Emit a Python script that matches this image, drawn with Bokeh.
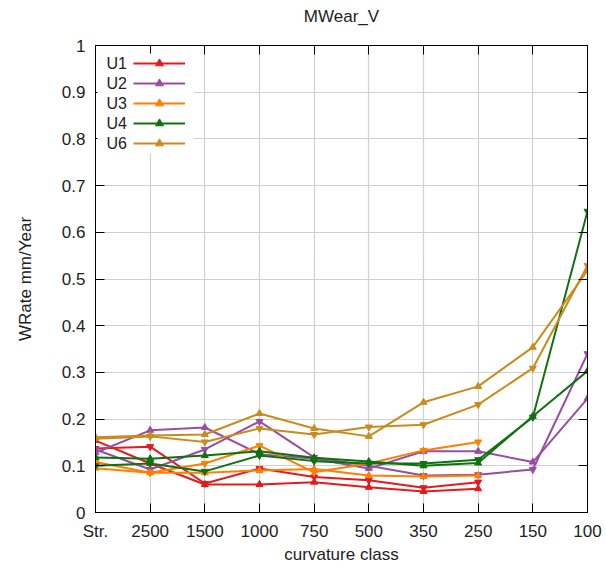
from bokeh.plotting import figure
from bokeh.models import (FixedTicker, LinearAxis, Range1d, Legend, LegendItem,
                          Label, BoxAnnotation)
from bokeh.embed import file_html
from bokeh.resources import INLINE

chart_title = "MWear_V"
categories = ["Str.", "2500", "1500", "1000", "750", "500", "350", "250", "150", "100"]
x_pos = list(range(len(categories)))

series_names = ["U1", "U2", "U3", "U4", "U6"]
series_colors = ["#e41a1c", "#984ea3", "#ff7f00", "#0f720f", "#c98c1c"]

# two measured lines per series (up-triangle line A, down-triangle line B)
u1_a = [0.154, 0.105, 0.060, 0.060, 0.065, 0.054, 0.045, 0.051]
u1_b = [0.137, 0.141, 0.062, 0.094, 0.076, 0.069, 0.053, 0.065]
u2_a = [0.128, 0.176, 0.182, 0.125, 0.115, 0.094, 0.131, 0.131, 0.108, 0.244]
u2_b = [0.135, 0.092, 0.135, 0.195, 0.118, 0.100, 0.079, 0.081, 0.092, 0.340]
u3_a = [0.095, 0.085, 0.085, 0.090, 0.093, 0.079, 0.077, 0.079]
u3_b = [0.108, 0.085, 0.105, 0.143, 0.086, 0.105, 0.133, 0.151]
u4_a = [0.118, 0.115, 0.122, 0.131, 0.117, 0.109, 0.100, 0.106, 0.206, 0.303]
u4_b = [0.100, 0.105, 0.088, 0.122, 0.110, 0.105, 0.105, 0.113, 0.204, 0.645]
u6_a = [0.161, 0.165, 0.167, 0.212, 0.180, 0.163, 0.236, 0.270, 0.354, 0.518]
u6_b = [0.158, 0.163, 0.151, 0.180, 0.167, 0.183, 0.188, 0.231, 0.309, 0.529]

series_a = [u1_a, u2_a, u3_a, u4_a, u6_a]
series_b = [u1_b, u2_b, u3_b, u4_b, u6_b]

y_ticks = [0, 0.1, 0.2, 0.3, 0.4, 0.5, 0.6, 0.7, 0.8, 0.9, 1]
y_tick_labels = ["0", "0.1", "0.2", "0.3", "0.4", "0.5", "0.6", "0.7", "0.8", "0.9", "1"]

FONT = "Liberation Sans"
TXT = "#222222"

p = figure(width=606, height=567, output_backend="svg", toolbar_location=None,
           x_range=Range1d(x_pos[0], x_pos[-1]), y_range=Range1d(y_ticks[0], y_ticks[-1]),
           min_border_left=95, min_border_right=19, min_border_top=45, min_border_bottom=55,
           title=chart_title)

p.title.text_font = FONT
p.title.text_font_size = "17px"
p.title.text_font_style = "normal"
p.title.text_color = TXT
p.title.align = "center"
p.title.standoff = 0
p.title.padding = (0, 0, 0, 20)

p.outline_line_color = "black"
p.outline_line_width = 1

xa = p.xaxis[0]
xa.ticker = FixedTicker(ticks=x_pos)
xa.major_label_overrides = {x: c for x, c in zip(x_pos, categories)}
ya = p.yaxis[0]
ya.ticker = FixedTicker(ticks=y_ticks)
ya.major_label_overrides = {t: l for t, l in zip(y_ticks, y_tick_labels)}

for ax in (xa, ya):
    ax.major_tick_in = 9
    ax.major_tick_out = 0
    ax.minor_tick_line_color = None
    ax.axis_line_color = "black"
    ax.major_tick_line_color = "black"
    ax.major_label_text_font = FONT
    ax.major_label_text_font_size = "17px"
    ax.major_label_text_color = TXT
    ax.axis_label_text_font = FONT
    ax.axis_label_text_font_size = "17px"
    ax.axis_label_text_font_style = "normal"
    ax.axis_label_text_color = TXT

xa.major_label_standoff = 9
xa.axis_label = "curvature class"
xa.axis_label_standoff = 1
ya.major_label_standoff = 10
ya.axis_label = "WRate mm/Year"
ya.axis_label_standoff = 24

# mirrored tick axes (ticks only, labels not drawn)
ra = LinearAxis(ticker=FixedTicker(ticks=y_ticks))
ta = LinearAxis(ticker=FixedTicker(ticks=x_pos))
for ax in (ra, ta):
    ax.major_tick_in = 9
    ax.major_tick_out = 0
    ax.minor_tick_line_color = None
    ax.axis_line_color = "black"
    ax.major_label_text_color = None
    ax.major_label_standoff = 0
p.add_layout(ra, "right")
p.add_layout(ta, "above")

p.xgrid.ticker = FixedTicker(ticks=x_pos[1:-1])
p.ygrid.ticker = FixedTicker(ticks=y_ticks[1:-1])
for g in (p.xgrid[0], p.ygrid[0]):
    g.grid_line_color = "#d0d0d0"
    g.grid_line_width = 1.2

items = []
for name, color, ya_vals, yb_vals in zip(series_names, series_colors, series_a, series_b):
    xs_a = x_pos[:len(ya_vals)]
    xs_b = x_pos[:len(yb_vals)]
    la = p.line(xs_a, ya_vals, line_color=color, line_width=2)
    sa = p.scatter(xs_a, ya_vals, marker="triangle", size=7, fill_color=color, line_color=color)
    p.line(xs_b, yb_vals, line_color=color, line_width=2)
    p.scatter(xs_b, yb_vals, marker="inverted_triangle", size=7, fill_color=color, line_color=color)
    items.append(LegendItem(label=" ", renderers=[la, sa]))

# opaque key background
p.add_layout(BoxAnnotation(left=2, right=98, top=459, bottom=359,
                           left_units="screen", right_units="screen",
                           top_units="screen", bottom_units="screen",
                           fill_color="white", fill_alpha=1, line_color=None))

legend = Legend(items=items, location=(38, 359), glyph_width=52, glyph_height=20,
                label_height=20, label_width=0, spacing=0, padding=0, margin=0,
                label_standoff=0, border_line_color=None, background_fill_alpha=0,
                label_text_color=None)
p.add_layout(legend, "center")

for i, name in enumerate(series_names):
    p.add_layout(Label(x=11, y=449 - 20 * i, x_units="screen", y_units="screen",
                       text=name, text_font=FONT, text_font_size="16px",
                       text_color=TXT, text_baseline="middle", text_align="left"))

open("out.html", "w").write(file_html(p, INLINE))
